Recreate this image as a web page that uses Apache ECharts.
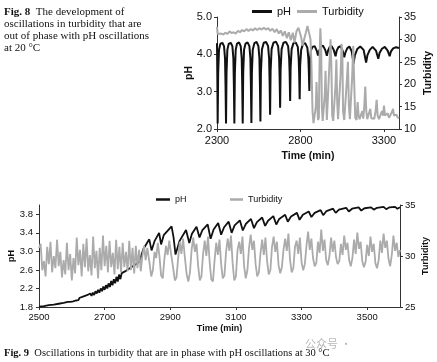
<!DOCTYPE html>
<html><head><meta charset="utf-8">
<script src="https://cdn.jsdelivr.net/npm/echarts@6.0.0/dist/echarts.min.js"></script>
<style>html,body{margin:0;padding:0;background:#fff}#c{width:437px;height:362px}</style>
</head><body><div id="c"></div>
<script>
// ---------- Fig. 8 (20 °C) ----------
const topPH = [
[2300,4.30],[2302,3.4],[2304,2.15],
[2307,3.5],[2312,4.12],[2320,4.28],[2332,4.31],[2342,4.22],[2348,3.9],[2351,3.2],[2354,2.15],
[2357,3.5],[2362,4.12],[2370,4.28],[2382,4.31],[2392,4.22],[2398,3.9],[2401,3.2],[2404,2.15],
[2407,3.5],[2412,4.12],[2420,4.29],[2432,4.32],[2442,4.22],[2448,3.9],[2451,3.2],[2454,2.15],
[2457,3.5],[2462,4.12],[2471,4.29],[2483,4.32],[2494,4.22],[2500,3.9],[2503,3.2],[2506,2.16],
[2509,3.5],[2514,4.12],[2524,4.30],[2537,4.33],[2548,4.22],[2554,3.9],[2557,3.2],[2560,2.20],
[2563,3.5],[2569,4.13],[2580,4.31],[2594,4.33],[2606,4.22],[2612,3.9],[2615,3.3],[2618,2.38],
[2621,3.55],[2627,4.14],[2638,4.31],[2653,4.34],[2666,4.22],[2672,3.9],[2675,3.4],[2678,2.57],
[2681,3.6],[2687,4.14],[2698,4.31],[2713,4.33],[2726,4.22],[2732,3.9],[2735,3.5],[2738,2.75],
[2741,3.65],[2747,4.14],[2758,4.30],[2771,4.32],[2784,4.20],[2789,3.9],[2792,3.5],[2795,2.80],
[2798,3.7],[2804,4.12],[2815,4.28],[2828,4.30],[2841,4.18],[2847,3.9],[2850,3.55],[2853,3.02],
[2856,3.75],[2862,4.10],[2872,4.20],[2885,4.22],[2897,4.10],[2905,3.97],
[2912,4.10],[2922,4.20],[2935,4.23],[2948,4.12],[2958,3.96],
[2965,4.10],[2975,4.20],[2987,4.22],[2999,4.12],[3010,3.95],
[3017,4.10],[3027,4.19],[3040,4.22],[3052,4.10],[3062,3.92],
[3070,4.06],[3080,4.16],[3093,4.21],[3107,4.08],[3118,3.75],
[3126,3.98],[3140,4.14],[3158,4.21],[3178,4.12],[3193,3.78],
[3201,3.98],[3215,4.12],[3232,4.20],[3252,4.10],[3266,3.88],
[3274,4.04],[3288,4.15],[3305,4.20],[3322,4.10],[3334,3.95],
[3342,4.08],[3355,4.16],[3372,4.19],[3390,4.17]
];
const topTurb = [
[2300,32.8],[2304,31.2],[2312,31.0],[2325,31.3],[2338,31.1],[2350,31.5],[2362,31.2],[2375,31.8],
[2388,31.4],[2400,31.6],[2412,31.3],[2425,31.9],[2438,31.6],[2450,32.1],[2463,31.8],[2476,32.3],
[2489,31.9],[2502,32.3],[2515,32.0],[2528,32.5],[2541,32.1],[2554,32.5],[2567,32.2],[2580,32.6],
[2593,32.2],[2606,32.5],[2619,31.9],[2632,32.4],[2645,31.6],[2658,32.3],[2670,31.3],[2682,32.0],
[2694,30.8],[2706,31.8],[2718,30.3],[2730,31.6],[2742,29.8],[2754,31.5],[2764,29.3],[2776,31.8],
[2788,32.6],[2796,32.7],[2804,30.5],[2812,28.6],[2822,28.8],[2832,31.5],[2842,33.0],[2852,32.8],
[2860,30.0],[2866,24.0],[2872,14.0],[2878,11.3],[2886,11.5],[2892,15.0],[2896,20.5],[2900,16.0],
[2905,12.0],[2910,12.5],[2915,27.0],[2919,32.5],[2924,28.0],[2928,15.0],[2933,11.8],[2940,12.0],
[2946,18.0],[2950,23.0],[2954,17.0],[2958,12.0],[2966,12.2],[2974,25.0],[2980,30.0],[2985,24.0],
[2990,13.0],[2996,11.8],[3004,12.0],[3010,20.0],[3015,25.5],[3020,16.0],[3025,12.2],[3032,12.0],
[3040,22.0],[3046,29.0],[3051,26.0],[3055,14.0],[3062,12.0],[3070,12.3],[3078,21.0],[3084,25.0],
[3090,15.0],[3096,12.2],[3104,12.0],[3110,22.0],[3116,28.5],[3122,20.0],[3128,12.5],[3136,12.0],
[3142,16.0],[3148,13.0],[3154,12.2],[3162,12.0],[3170,14.0],[3176,12.3],[3182,15.0],[3188,19.5],
[3194,14.0],[3200,12.2],[3210,12.0],[3218,14.5],[3224,12.4],[3232,12.0],[3242,12.3],[3250,14.0],
[3256,16.5],[3262,13.0],[3270,12.2],[3280,12.5],[3288,14.0],[3294,13.0],[3300,15.2],[3306,13.0],
[3314,12.6],[3322,13.5],[3330,12.5],[3340,12.8],[3348,13.8],[3354,14.5],[3360,13.0],[3368,12.6],
[3375,13.2],[3382,12.6],[3390,12.4]
];
// ---------- Fig. 9 (30 °C) ----------
const botPH = [
[2500,1.81],[2515,1.82],[2530,1.84],[2545,1.85],[2560,1.87],[2575,1.89],[2588,1.91],
[2592,1.93],[2596,1.91],[2600,1.95],[2604,1.92],[2608,1.96],[2612,1.94],[2616,1.98],[2620,1.95],
[2624,2.00],[2628,1.97],[2632,2.02],[2636,1.98],[2640,2.04],[2644,2.00],[2648,2.06],[2652,2.02],
[2656,2.09],[2660,2.04],[2664,2.11],[2668,2.06],[2672,2.14],[2676,2.09],[2680,2.17],[2684,2.11],
[2688,2.20],[2692,2.14],[2696,2.24],[2700,2.17],[2704,2.27],[2708,2.20],[2712,2.31],[2716,2.23],
[2720,2.36],[2724,2.27],[2728,2.40],[2732,2.31],[2736,2.45],[2740,2.35],[2744,2.50],[2748,2.40],
[2752,2.53],[2765,2.58],[2780,2.65],[2795,2.72],[2806,2.78],
[2818,3.05],[2836,3.26],[2843,3.02],[2852,3.22],[2866,3.40],[2872,3.15],[2880,3.35],[2904,3.54],
[2910,3.30],[2916,2.93],[2928,3.22],[2948,3.46],[2958,3.18],[2966,3.38],[2980,3.53],[2989,3.30],
[2998,3.46],[3014,3.58],[3023,3.27],[3032,3.47],[3046,3.61],[3055,3.36],[3064,3.52],[3078,3.64],
[3087,3.40],[3096,3.56],[3112,3.67],[3121,3.45],[3130,3.59],[3146,3.70],[3155,3.50],[3164,3.63],
[3180,3.73],[3189,3.55],[3198,3.66],[3214,3.76],[3223,3.58],[3232,3.70],[3250,3.79],[3258,3.64],
[3268,3.75],[3286,3.83],[3294,3.68],[3304,3.79],[3322,3.86],[3330,3.74],[3340,3.83],[3358,3.89],
[3366,3.78],[3376,3.87],[3396,3.92],[3404,3.83],[3414,3.90],[3436,3.94],[3444,3.86],[3454,3.92],
[3474,3.95],[3482,3.88],[3492,3.93],[3512,3.95],[3520,3.90],[3530,3.94],[3550,3.96],[3558,3.91],
[3568,3.95],[3585,3.96],[3592,3.92],[3600,3.95]
];
const botTurb = [
[2500,30.8],[2505,31.2],[2510,28.6],[2515,29.5],[2520,28.0],[2525,30.9],[2530,29.2],[2535,31.4],
[2540,28.4],[2545,30.0],[2550,28.8],[2555,31.6],[2560,29.0],[2565,30.4],[2570,27.9],[2575,29.6],
[2580,28.2],[2585,31.3],[2590,28.6],[2595,30.2],[2600,27.6],[2605,29.8],[2610,28.3],[2615,31.8],
[2620,29.1],[2625,30.6],[2630,28.0],[2635,31.2],[2640,28.9],[2645,31.7],[2650,28.5],[2655,30.1],
[2660,28.1],[2665,31.9],[2670,28.8],[2675,30.5],[2680,27.8],[2685,30.8],[2690,28.6],[2695,32.0],
[2700,29.0],[2705,31.0],[2710,28.4],[2715,31.5],[2720,28.9],[2725,30.3],[2730,28.2],[2735,31.6],
[2740,28.7],[2745,30.9],[2750,28.4],[2755,31.3],[2760,28.9],[2765,30.4],[2770,28.5],[2775,31.5],
[2780,28.6],[2785,30.8],[2790,28.3],[2795,31.0],[2800,28.8],[2805,30.6],[2810,28.5],[2815,30.0],
[2820,31.0],[2825,29.6],[2830,30.8],[2836,29.5],[2842,28.0],[2847,28.6],[2852,30.4],[2857,29.8],
[2862,31.3],[2867,30.0],[2872,28.1],[2877,27.8],[2882,29.7],[2887,31.0],[2892,30.1],[2897,31.5],
[2902,30.3],[2908,29.0],[2914,27.6],[2919,27.9],[2924,29.8],[2929,31.4],[2934,30.2],[2939,31.7],
[2944,30.0],[2950,28.2],[2955,27.5],[2960,28.4],[2965,30.6],[2970,31.8],[2975,30.4],[2980,31.2],
[2985,29.0],[2990,27.6],[2995,28.0],[3000,30.2],[3005,31.5],[3010,30.0],[3015,31.9],[3020,29.4],
[3025,27.7],[3030,27.5],[3035,29.6],[3040,31.3],[3045,30.1],[3050,31.6],[3055,29.2],[3060,27.8],
[3065,28.1],[3070,30.4],[3075,31.7],[3080,30.5],[3085,32.0],[3090,29.3],[3095,27.6],[3100,28.0],
[3105,30.6],[3110,31.4],[3115,30.2],[3120,31.9],[3125,29.0],[3130,27.8],[3135,28.6],[3140,30.8],
[3145,32.1],[3150,30.6],[3155,31.5],[3160,29.2],[3165,28.0],[3170,28.4],[3175,30.3],[3180,31.6],
[3185,30.1],[3190,31.8],[3195,29.5],[3200,28.2],[3205,28.6],[3210,30.9],[3215,31.9],[3220,30.4],
[3225,31.4],[3230,29.1],[3235,28.3],[3240,28.9],[3245,30.6],[3250,31.7],[3255,30.5],[3260,32.2],
[3265,29.6],[3270,28.4],[3275,28.8],[3280,30.9],[3285,31.5],[3290,30.2],[3295,31.8],[3300,29.4],
[3305,28.6],[3310,29.2],[3315,31.0],[3320,32.4],[3325,30.6],[3330,31.7],[3335,29.8],[3340,29.0],
[3345,29.3],[3350,31.4],[3355,30.3],[3360,32.6],[3365,30.5],[3370,31.6],[3375,29.6],[3380,29.1],
[3385,30.0],[3390,31.8],[3395,30.4],[3400,31.5],[3405,29.9],[3410,29.2],[3415,29.5],[3420,31.2],
[3425,30.1],[3430,32.0],[3435,30.6],[3440,31.3],[3445,29.6],[3450,29.0],[3455,29.8],[3460,31.6],
[3465,30.2],[3470,32.3],[3475,30.7],[3480,31.4],[3485,29.5],[3490,28.9],[3495,29.4],[3500,31.1],
[3505,30.0],[3510,31.9],[3515,30.4],[3520,31.2],[3525,29.3],[3530,28.8],[3535,29.6],[3540,31.5],
[3545,30.3],[3550,32.2],[3555,30.8],[3560,31.5],[3565,29.7],[3570,29.0],[3575,30.1],[3580,32.0],
[3585,30.5],[3590,31.3],[3595,29.9],[3600,30.6]
];
const caption8 = '{b|Fig. 8}  The development of\noscillations in turbidity that are\nout of phase with pH oscillations\nat 20 °C';
const caption9 = '{b|Fig. 9}  Oscillations in turbidity that are in phase with pH oscillations at 30 °C';

const SANS = '"Liberation Sans", Arial, sans-serif';
const SERIF = '"Liberation Serif", "Times New Roman", serif';
const INK = '#111';
const AX = '#333';
const BLACK = '#111111';
const GRAY = '#ababab';

function axis(o) {
  return Object.assign({
    type: 'value',
    axisLine: { show: true, onZero: false, lineStyle: { color: AX, width: 1 } },
    axisTick: { show: true, inside: false, length: 3, lineStyle: { color: AX, width: 1 } },
    splitLine: { show: false },
    nameLocation: 'middle',
    nameMoveOverlap: false,
    nameTextStyle: { fontFamily: SANS, fontWeight: 'bold', fontSize: o.nfs, color: INK },
  }, o.extra, {
    axisLabel: Object.assign({ color: INK, fontFamily: SANS, fontSize: o.fs, margin: o.margin,
      formatter: v => String(v) }, o.label || {})
  });
}

const chart = echarts.init(document.getElementById('c'), null, { renderer: 'canvas' });
chart.setOption({
  animation: false,
  backgroundColor: '#fff',
  grid: [
    { left: 217, top: 17, width: 182, height: 112, containLabel: false, outerBoundsMode: 'none' },
    { left: 39, top: 205, width: 361, height: 102, containLabel: false, outerBoundsMode: 'none' }
  ],
  xAxis: [
    axis({ fs: 11, nfs: 10.5, margin: 6, label: { showMaxLabel: false },
      extra: { gridIndex: 0, min: 2300, max: 3390, interval: 500, name: 'Time (min)', nameGap: 22 } }),
    axis({ fs: 9.5, nfs: 9, margin: 5, label: { showMaxLabel: false },
      extra: { gridIndex: 1, min: 2500, max: 3600, interval: 200, name: 'Time (min)', nameGap: 17 } })
  ],
  yAxis: [
    axis({ fs: 11, nfs: 10.5, margin: 5, label: { formatter: v => v.toFixed(1) },
      extra: { gridIndex: 0, position: 'left', min: 2, max: 5, interval: 1, name: 'pH', nameGap: 22, nameRotate: 90 } }),
    axis({ fs: 11, nfs: 10.5, margin: 5,
      extra: { gridIndex: 0, position: 'right', min: 10, max: 35, interval: 5, name: 'Turbidity', nameGap: 24, nameRotate: 90 } }),
    axis({ fs: 9.5, nfs: 9, margin: 6, label: { formatter: v => v.toFixed(1), showMaxLabel: false },
      extra: { gridIndex: 1, position: 'left', min: 1.8, max: 4.0, interval: 0.4, name: 'pH', nameGap: 23, nameRotate: 90 } }),
    axis({ fs: 9.5, nfs: 9, margin: 5,
      extra: { gridIndex: 1, position: 'right', min: 25, max: 35, interval: 5, name: 'Turbidity', nameGap: 21, nameRotate: 90 } })
  ],
  legend: [
    { data: ['pH'], left: 252, top: 6, padding: 0, icon: 'rect', itemWidth: 20, itemHeight: 3,
      textStyle: { fontFamily: SANS, fontSize: 11, color: INK }, selectedMode: false },
    { data: ['Turbidity'], left: 297, top: 6, padding: 0, icon: 'rect', itemWidth: 20, itemHeight: 3,
      textStyle: { fontFamily: SANS, fontSize: 11, color: INK }, selectedMode: false },
    { data: ['pH'], left: 156, top: 195, padding: 0, icon: 'rect', itemWidth: 14, itemHeight: 2.5,
      textStyle: { fontFamily: SANS, fontSize: 9, color: INK }, selectedMode: false },
    { data: ['Turbidity'], left: 230, top: 195, padding: 0, icon: 'rect', itemWidth: 13, itemHeight: 2.5,
      textStyle: { fontFamily: SANS, fontSize: 9, color: INK }, selectedMode: false }
  ],
  series: [
    { name: 'pH', type: 'line', xAxisIndex: 0, yAxisIndex: 0, data: topPH, showSymbol: false,
      lineStyle: { color: BLACK, width: 2 }, itemStyle: { color: BLACK }, z: 2 },
    { name: 'Turbidity', type: 'line', xAxisIndex: 0, yAxisIndex: 1, data: topTurb, showSymbol: false,
      lineStyle: { color: GRAY, width: 2 }, itemStyle: { color: GRAY }, z: 3 },
    { name: 'pH', type: 'line', xAxisIndex: 1, yAxisIndex: 2, data: botPH, showSymbol: false,
      lineStyle: { color: BLACK, width: 1.8 }, itemStyle: { color: BLACK }, z: 2 },
    { name: 'Turbidity', type: 'line', xAxisIndex: 1, yAxisIndex: 3, data: botTurb, showSymbol: false,
      lineStyle: { color: GRAY, width: 1.8 }, itemStyle: { color: GRAY }, z: 3 }
  ],
  graphic: [
    { type: 'text', left: 4, top: 6, style: { text: caption8, fontFamily: SERIF, fontSize: 11, lineHeight: 12, fill: INK,
        rich: { b: { fontFamily: SERIF, fontSize: 11, fontWeight: 'bold', lineHeight: 12, fill: INK } } } },
    { type: 'text', left: 4, top: 347, style: { text: caption9, fontFamily: SERIF, fontSize: 10.5, lineHeight: 11.7, fill: INK,
        rich: { b: { fontFamily: SERIF, fontSize: 10.5, fontWeight: 'bold', lineHeight: 11.7, fill: INK } } } },
    { type: 'text', left: 305, top: 338, z: 100, style: { text: '公众号 ·', fontFamily: '"Noto Sans CJK SC"', fontSize: 11, fill: 'rgba(160,160,160,0.75)' } }
  ]
});
</script>
</body></html>
